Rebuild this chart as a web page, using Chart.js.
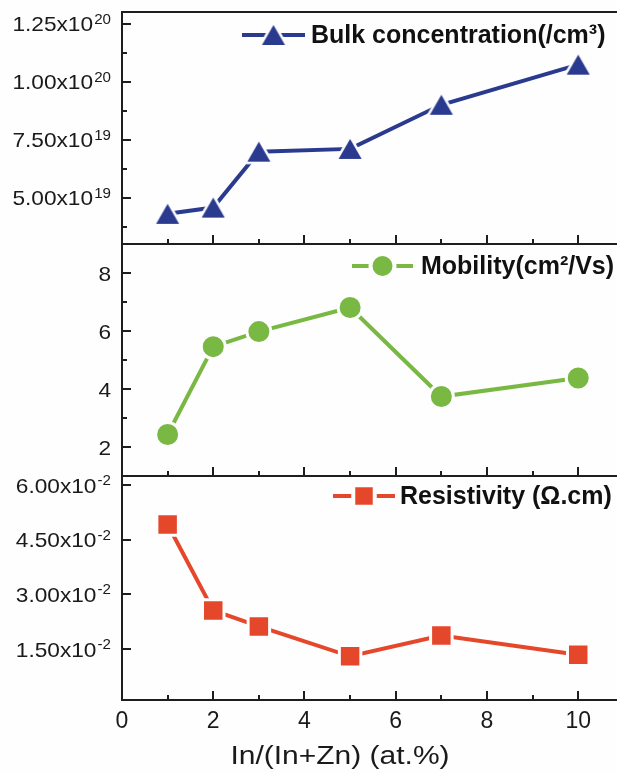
<!DOCTYPE html>
<html lang="en">
<head>
<meta charset="UTF-8">
<title>Electrical properties vs In/(In+Zn)</title>
<script src="https://cdn.jsdelivr.net/npm/chart.js"></script>
<style>
    body {
        margin: 0;
        background: #fefefe;
        width: 617px;
        height: 773px;
        overflow: hidden;
    }

    .panel {
        position: absolute;
        left: 0;
        width: 617px;
    }
</style>
</head>
<body>
<div class="panel" style="top:10px;height:236px"><canvas id="bulkChart"></canvas></div>
<div class="panel" style="top:242px;height:236px"><canvas id="mobChart"></canvas></div>
<div class="panel" style="top:474px;height:299px"><canvas id="resChart"></canvas></div>

<script>
    // x: In/(In+Zn) in at.%
    const xValues = [1, 2, 3, 5, 7, 10];

    // series
    const bulkValues = [4.3e19, 4.57e19, 6.98e19, 7.1e19, 9.0e19, 1.073e20];
    const mobilityValues = [2.43, 5.46, 5.98, 6.81, 3.74, 4.38];
    const resistivityValues = [0.0492, 0.0256, 0.0212, 0.0130, 0.0187, 0.01345];

    // ticks ('^' separates the exponent, drawn as superscript)
    const xTicks = [0, 1, 2, 3, 4, 5, 6, 7, 8, 9, 10];
    const xTickLabels = ['0', '', '2', '', '4', '', '6', '', '8', '', '10'];
    const xTitle = 'In/(In+Zn) (at.%)';
    const bulkTicks = [3.75e19, 5e19, 6.25e19, 7.5e19, 8.75e19, 1e20, 1.125e20, 1.25e20];
    const bulkTickLabels = ['', '5.00x10^19', '', '7.50x10^19', '', '1.00x10^20', '', '1.25x10^20'];
    const mobTicks = [2, 3, 4, 5, 6, 7, 8];
    const mobTickLabels = ['2', '', '4', '', '6', '', '8'];
    const resTicks = [0.015, 0.03, 0.045, 0.06];
    const resTickLabels = ['1.50x10^-2', '3.00x10^-2', '4.50x10^-2', '6.00x10^-2'];

    const axisColor = '#1e1e1e';
    const textColor = '#1a1a1a';
    const bgColor = '#fefefe';
    const family = "'Liberation Sans', Arial, sans-serif";

    Chart.defaults.font.family = family;
    Chart.defaults.color = textColor;

    // triangle marker centred on its box (like Origin), with a light rim so the line stops short
    function triangleMarker(color) {
        const c = document.createElement('canvas');
        c.width = 34;
        c.height = 32;
        const g = c.getContext('2d');
        g.beginPath();
        g.moveTo(17, 6);
        g.lineTo(5.5, 26);
        g.lineTo(28.5, 26);
        g.closePath();
        g.lineJoin = 'round';
        g.lineWidth = 5;
        g.strokeStyle = bgColor;
        g.stroke();
        g.fillStyle = color;
        g.fill();
        return c;
    }

    // y label with a raised exponent, slightly widened like the original
    function drawYLabel(ctx, label, right, py) {
        const parts = label.split('^');
        ctx.save();
        ctx.translate(right, py);
        ctx.scale(1.08, 1);
        ctx.fillStyle = textColor;
        ctx.textBaseline = 'alphabetic';
        ctx.textAlign = 'right';
        let x = 0;
        if (parts.length > 1) {
            ctx.font = '14px ' + family;
            ctx.fillText(parts[1], 0, 0);
            x = -ctx.measureText(parts[1]).width - 1;
        }
        ctx.font = '21px ' + family;
        ctx.fillText(parts[0], x, 7.5);
        ctx.restore();
    }

    // frame, inward ticks, y labels, x title and the in-plot legend
    const framePlugin = {
        id: 'frame',
        afterDraw(chart) {
            const ctx = chart.ctx;
            const a = chart.chartArea;
            const x = chart.scales.x;
            const y = chart.scales.y;
            const cfg = chart.options.plugins.frame;
            ctx.save();
            ctx.strokeStyle = axisColor;
            ctx.lineWidth = 2;
            ctx.beginPath();
            ctx.moveTo(a.right, a.top);
            ctx.lineTo(a.left, a.top);
            ctx.lineTo(a.left, a.bottom);
            ctx.lineTo(a.right, a.bottom);
            x.ticks.forEach(t => {
                if (t.value === 0) return;
                const px = Math.round(x.getPixelForValue(t.value));
                const len = t.value % 2 === 0 ? 9 : 5;
                ctx.moveTo(px, a.bottom);
                ctx.lineTo(px, a.bottom - len);
            });
            y.ticks.forEach((t, i) => {
                const py = Math.round(y.getPixelForValue(t.value));
                const len = cfg.labels[i] ? 9 : 5;
                ctx.moveTo(a.left, py);
                ctx.lineTo(a.left + len, py);
            });
            ctx.stroke();

            y.ticks.forEach((t, i) => {
                if (cfg.labels[i]) drawYLabel(ctx, cfg.labels[i], a.left - 11, y.getPixelForValue(t.value));
            });

            if (cfg.title) {
                ctx.save();
                ctx.translate(340, a.bottom + 64);
                ctx.scale(1.2, 1);
                ctx.font = '25px ' + family;
                ctx.fillStyle = textColor;
                ctx.textAlign = 'center';
                ctx.textBaseline = 'alphabetic';
                ctx.fillText(cfg.title, 0, 0);
                ctx.restore();
            }

            // legend: short line, marker, bold text
            const lg = cfg.legend;
            const ly = a.top + lg.dy;
            const ds = chart.data.datasets[0];
            ctx.strokeStyle = ds.borderColor;
            ctx.lineWidth = 4;
            ctx.beginPath();
            ctx.moveTo(lg.x0, ly);
            ctx.lineTo(lg.x1, ly);
            ctx.stroke();
            ctx.fillStyle = ds.pointBackgroundColor;
            ctx.strokeStyle = bgColor;
            Chart.helpers.drawPoint(ctx, {
                pointStyle: ds.pointStyle,
                radius: ds.pointRadius,
                borderWidth: ds.pointBorderWidth,
                rotation: 0
            }, (lg.x0 + lg.x1) / 2, ly);
            ctx.fillStyle = '#111';
            ctx.font = 'bold 25px ' + family;
            ctx.textBaseline = 'middle';
            ctx.textAlign = 'left';
            ctx.fillText(lg.text, lg.tx, ly + 1);
            ctx.restore();
        }
    };

    function xScale(showLabels) {
        return {
            type: 'linear',
            min: 0,
            max: 10.85,
            display: showLabels,
            afterBuildTicks: s => { s.ticks = xTicks.map(v => ({value: v})); },
            ticks: {
                callback: v => xTickLabels[xTicks.indexOf(v)],
                font: {size: 23},
                padding: 8,
                autoSkip: false,
                maxRotation: 0
            },
            grid: {display: false, drawTicks: false},
            border: {display: false},
            afterFit: s => {
                s.height = showLabels ? 73 : 0;
                s.paddingLeft = 0;
                s.paddingRight = 0;
            }
        };
    }

    function yScale(min, max, ticks) {
        return {
            min: min,
            max: max,
            afterBuildTicks: s => { s.ticks = ticks.map(v => ({value: v})); },
            ticks: {display: false},
            grid: {display: false, drawTicks: false},
            border: {display: false},
            afterFit: s => {
                s.width = 122;
                s.paddingTop = 0;
                s.paddingBottom = 0;
            }
        };
    }

    function makePanel(id, values, color, style, radius, yOpts, tickLabels, legend, showX) {
        const ctx = document.getElementById(id).getContext('2d');
        return new Chart(ctx, {
            type: 'line',
            data: {
                datasets: [{
                    data: xValues.map((v, i) => ({x: v, y: values[i]})),
                    borderColor: color,
                    borderWidth: 4,
                    pointStyle: style,
                    pointRadius: radius,
                    pointBackgroundColor: color,
                    pointBorderColor: bgColor,
                    pointBorderWidth: 3,
                    tension: 0
                }]
            },
            options: {
                responsive: true,
                maintainAspectRatio: false,
                animation: false,
                layout: {
                    autoPadding: false,
                    padding: {top: 2, bottom: showX ? 0 : 2, left: 0, right: 0}
                },
                scales: {
                    x: xScale(showX),
                    y: yOpts
                },
                plugins: {
                    legend: {display: false},
                    tooltip: {enabled: false},
                    frame: {labels: tickLabels, legend: legend, title: showX ? xTitle : null}
                }
            },
            plugins: [framePlugin]
        });
    }

    const navy = '#2a3a8e';
    const green = '#78b843';
    const red = '#e5472b';

    makePanel('bulkChart', bulkValues, navy, triangleMarker(navy), 15,
        yScale(3e19, 1.3e20, bulkTicks), bulkTickLabels,
        {x0: 242, x1: 305, tx: 311, dy: 23, text: 'Bulk concentration(/cm³)'}, false);

    makePanel('mobChart', mobilityValues, green, 'circle', 12,
        yScale(1, 9, mobTicks), mobTickLabels,
        {x0: 352, x1: 413, tx: 421, dy: 22, text: 'Mobility(cm²/Vs)'}, false);

    makePanel('resChart', resistivityValues, red, 'rect', 15.2,
        yScale(0.001, 0.0625, resTicks), resTickLabels,
        {x0: 333, x1: 395, tx: 400, dy: 20, text: 'Resistivity (Ω.cm)'}, true);
</script>
</body>
</html>
